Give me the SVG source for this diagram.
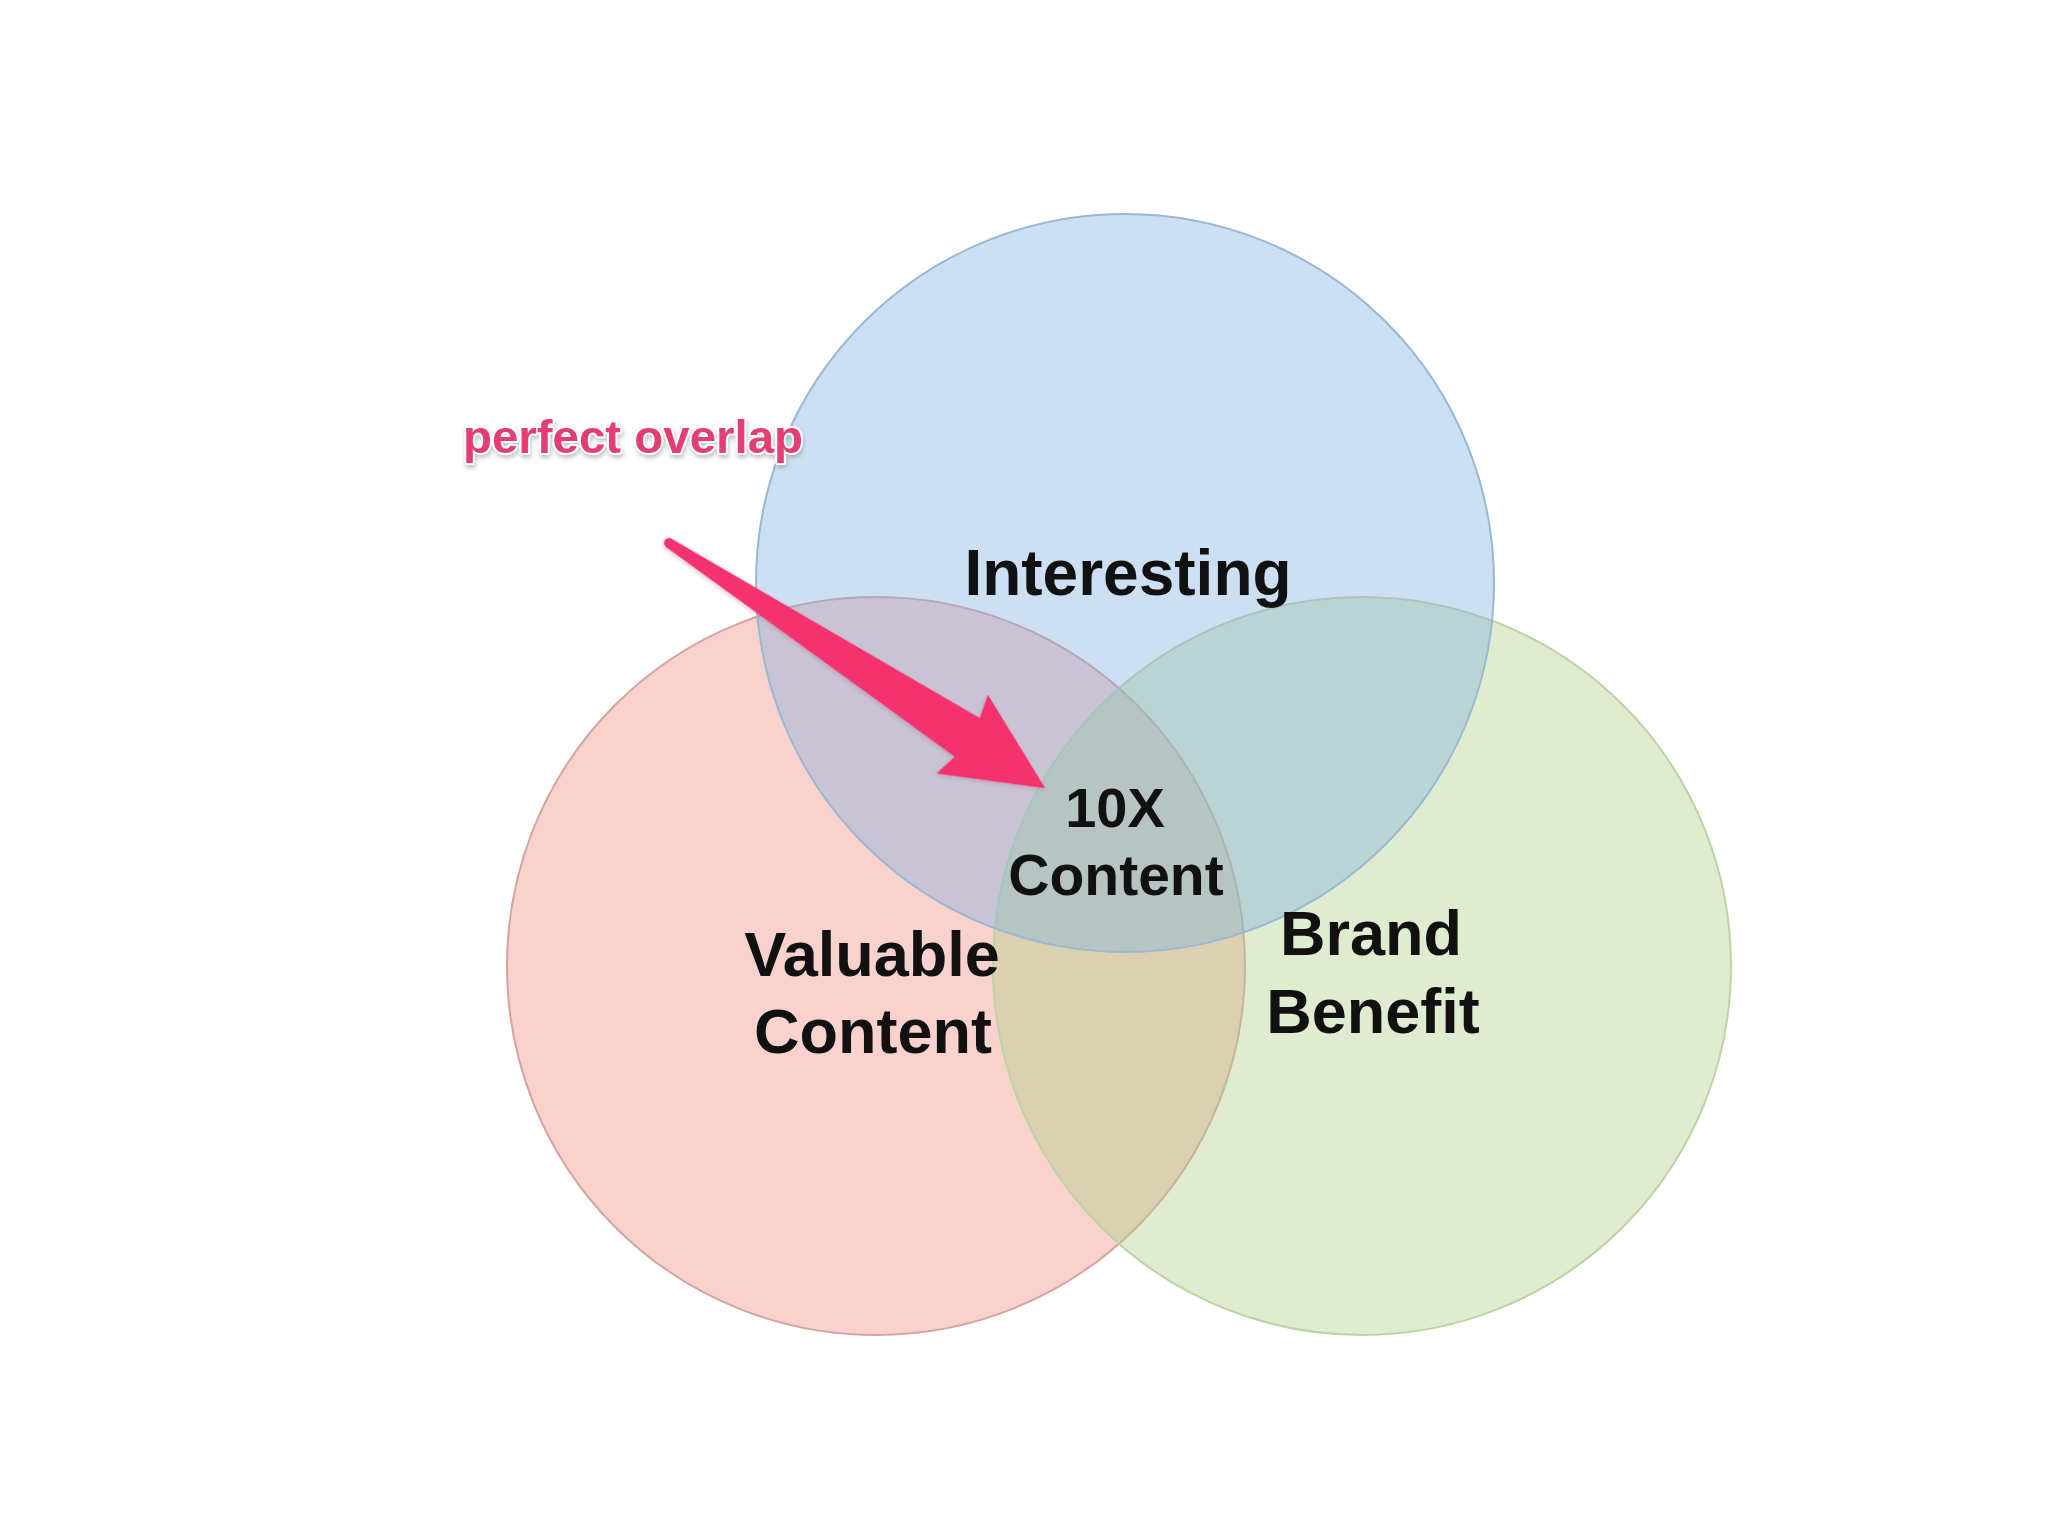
<svg xmlns="http://www.w3.org/2000/svg" width="2048" height="1536" viewBox="0 0 2048 1536">
  <defs>
    <style>
      .circle { stroke-width: 2; }
      .label { font-family: "Liberation Sans", Arial, sans-serif; font-weight: bold; fill: #111111; text-anchor: middle; }
      .note { font-family: "Liberation Sans", Arial, sans-serif; font-weight: bold; fill: #e33d72; stroke: #ffffff; stroke-width: 4; paint-order: stroke; stroke-linejoin: round; }
    </style>
    <filter id="shadow" x="-20%" y="-40%" width="140%" height="180%">
      <feDropShadow dx="1" dy="3" stdDeviation="2" flood-color="#888888" flood-opacity="0.5"/>
    </filter>
    <filter id="arrowShadow" x="-10%" y="-10%" width="120%" height="120%">
      <feDropShadow dx="0" dy="2" stdDeviation="2" flood-color="#a03050" flood-opacity="0.25"/>
    </filter>
  </defs>
  <rect x="0" y="0" width="2048" height="1536" fill="#ffffff"/>

  <g id="valuable-content">
    <circle class="circle" cx="876" cy="966" r="369" fill="#ef8c83" fill-opacity="0.4" stroke="#d7a39f"/>
  </g>
  <g id="brand-benefit">
    <circle class="circle" cx="1362" cy="966" r="369" fill="#afd087" fill-opacity="0.4" stroke="#bcd4a3"/>
  </g>
  <g id="interesting">
    <circle class="circle" cx="1125" cy="583" r="369" fill="#82b2e1" fill-opacity="0.4" stroke="#98b8d4"/>
  </g>

  <g id="labels">
    <text class="label" x="1128" y="595" font-size="64">Interesting</text>
    <text class="label" x="872" y="976" font-size="63">Valuable</text>
    <text class="label" x="873" y="1053" font-size="63">Content</text>
    <text class="label" x="1371" y="955" font-size="63">Brand</text>
    <text class="label" x="1373" y="1033" font-size="63">Benefit</text>
    <text class="label" x="1115" y="827" font-size="56">10X</text>
    <text class="label" x="1116" y="895" font-size="57">Content</text>
  </g>

  <g id="annotation">
    <text class="note" x="463" y="453" font-size="47" textLength="340" lengthAdjust="spacingAndGlyphs" filter="url(#shadow)">perfect overlap</text>
  </g>

  <g id="connectors">
    <path filter="url(#arrowShadow)" fill="#f4306d" transform="translate(669,543) rotate(33.09)" d="M0,-5 L356,-23 L350,-47 L449,0 L350,47 L356,23 L0,5 A5,5 0 0 1 0,-5 Z"/>
  </g>
</svg>
